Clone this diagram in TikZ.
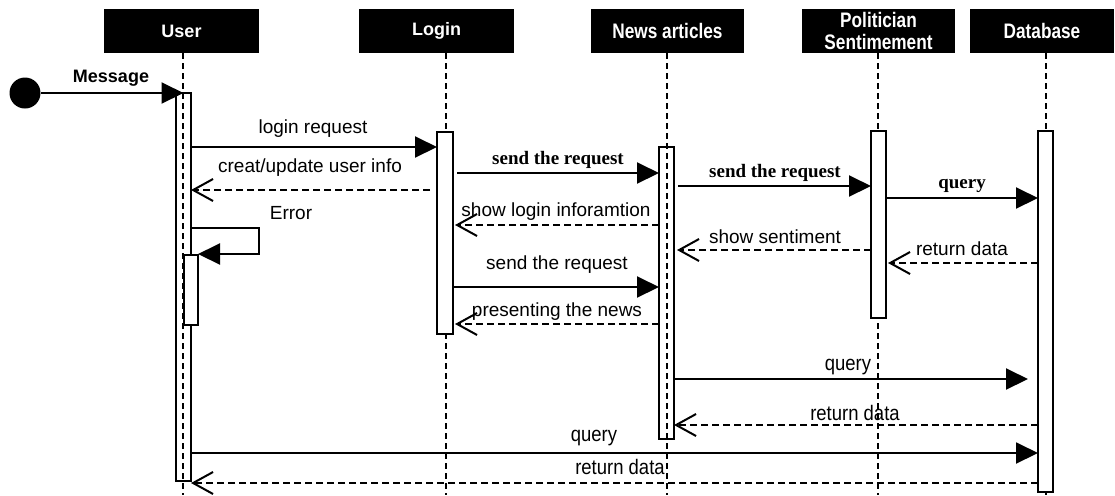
\documentclass[tikz,border=0pt]{standalone}
\usepackage{fontspec}
\setmainfont{Liberation Sans}
\newfontfamily\msgserif{Liberation Serif}
\newfontfamily\msgnarrow[FakeStretch=0.88]{Liberation Sans}
\newfontfamily\headnarrow[FakeStretch=0.82]{Liberation Sans}
\usetikzlibrary{arrows.meta}
\tikzset{
  head/.style={fill=black, text=white, font=\bfseries\fontsize{9}{10}\selectfont,
    minimum height=22pt, inner sep=0pt, outer sep=0pt, align=center},
  headn/.style={head, font=\headnarrow\bfseries\fontsize{10.5}{11}\selectfont},
  lifeline/.style={line width=1pt, dash pattern=on 3pt off 2pt},
  bar/.style={draw, line width=1pt, inner sep=0pt, outer sep=0pt, anchor=north},
  whitebar/.style={bar, fill=white},
  msg/.style={line width=1pt, -{Triangle[length=11pt,width=10.5pt]}},
  reply/.style={line width=1pt, dash pattern=on 3.5pt off 2pt,
    -{Straight Barb[length=10pt,width=11pt,line width=1pt]}},
  lbl/.style={font=\fontsize{9.5}{10}\selectfont, inner sep=0pt},
  lblb/.style={font=\bfseries\fontsize{9}{10}\selectfont, inner sep=0pt},
  lbls/.style={font=\msgserif\bfseries\fontsize{9.5}{10}\selectfont, inner sep=0pt},
  lbln/.style={font=\msgnarrow\fontsize{10.5}{11}\selectfont, inner sep=0pt},
}
\begin{document}
\begin{tikzpicture}[x=0.5pt, y=-0.5pt]
\useasboundingbox (0,0) rectangle (1115,495);

% participants
\node[head, minimum width=77.5pt] (user) at (181.5,31) {User};
\node[head, minimum width=77.5pt] (login) at (436.5,31) {Login};
\node[headn, minimum width=76.5pt] (news) at (667.5,31) {News articles};
\node[headn, minimum width=76.5pt] (pol) at (878.5,31) {Politician\\Sentimement};
\node[headn, minimum width=72pt] (db) at (1042,31) {Database};

% lifelines
\coordinate (uTop) at (183,53);   \coordinate (uEnd) at (183,495);
\coordinate (lTop) at (446,53);   \coordinate (lEnd) at (446,495);
\coordinate (nTop) at (667,53);   \coordinate (nEnd) at (667,495);
\coordinate (pTop) at (878,53);   \coordinate (pEnd) at (878,495);
\coordinate (dTop) at (1046,53);  \coordinate (dEnd) at (1046,495);
\foreach \a/\b in {uTop/uEnd, lTop/lEnd, nTop/nEnd, pTop/pEnd, dTop/dEnd}
  \draw[lifeline] (\a) -- (\b);

% activation bars
\node[bar, minimum width=7.5pt, minimum height=194pt] (ubar) at (183.5,93) {};
\node[whitebar, minimum width=7pt, minimum height=35pt] (ubar2) at (191,255) {};
\node[whitebar, minimum width=8pt, minimum height=101pt] (lbar) at (445,132) {};
\node[bar, minimum width=7.5pt, minimum height=146pt] (nbar) at (666.5,147) {};
\node[whitebar, minimum width=7.5pt, minimum height=93.5pt] (pbar) at (878.5,131) {};
\node[whitebar, minimum width=7.5pt, minimum height=180.5pt] (dbar) at (1045.5,131) {};

% initial message
\node[circle, fill=black, minimum size=15.5pt, inner sep=0pt] (start) at (25,93) {};
\draw[msg] (start.east) -- (ubar.north);
\node[lblb] (mMessage) at (111,78) {Message};

% login
\draw[msg] (ubar.east |- 0,147) -- (lbar.west |- 0,147);
\node[lbl] (mLogin) at (313,129) {login request};
\coordinate (cu1) at (430,190);
\draw[reply] (cu1) -- (ubar.east |- 0,190);
\node[lbl] (mCreat) at (310,168) {creat/update user info};

% requests forwarded with serif labels
\coordinate (ls1) at (457,173);
\draw[msg] (ls1) -- (nbar.west |- 0,173);
\node[lbls] (mSend1) at (558,160) {send the request};
\coordinate (ns1) at (678,186);
\draw[msg] (ns1) -- (pbar.west |- 0,186);
\node[lbls] (mSend2) at (775,173) {send the request};
\draw[msg] (pbar.east |- 0,198) -- (dbar.west |- 0,198);
\node[lbls] (mQuery1) at (962,186) {query};

% error self call
\coordinate (e1) at (259,228);
\coordinate (e2) at (259,254);
\draw[msg] (ubar.east |- 0,228) -- (e1) -- (e2) -- (ubar2.east |- 0,254);
\node[lbl] (mError) at (291,213) {Error};

% replies
\coordinate (sl1) at (455,225);
\draw[reply] (nbar.west |- 0,225) -- (sl1);
\node[lbl] (mShow) at (556,212) {show login inforamtion};
\coordinate (ss1) at (677,250);
\draw[reply] (pbar.west |- 0,250) -- (ss1);
\node[lbl] (mSent) at (775,237) {show sentiment};
\coordinate (rd1) at (888,263);
\draw[reply] (dbar.west |- 0,263) -- (rd1);
\node[lbl] (mRet1) at (962,249) {return data};

\draw[msg] (lbar.east |- 0,287) -- (nbar.west |- 0,287);
\node[lbl] (mSend3) at (557,265) {send the request};
\coordinate (pn1) at (455,324);
\draw[reply] (nbar.west |- 0,324) -- (pn1);
\node[lbl] (mPres) at (557,312) {presenting the news};

% lower queries
\coordinate (q2) at (1028,379);
\draw[msg] (nbar.east |- 0,379) -- (q2);
\node[lbln] (mQuery2) at (848,367) {query};
\draw[reply] (dbar.west |- 0,425) -- (nbar.east |- 0,425);
\node[lbln] (mRet2) at (855,413) {return data};
\draw[msg] (ubar.east |- 0,453) -- (dbar.west |- 0,453);
\node[lbln] (mQuery3) at (594,438) {query};
\draw[reply] (dbar.west |- 0,483) -- (ubar.east |- 0,483);
\node[lbln] (mRet3) at (620,467) {return data};
\end{tikzpicture}
\end{document}
